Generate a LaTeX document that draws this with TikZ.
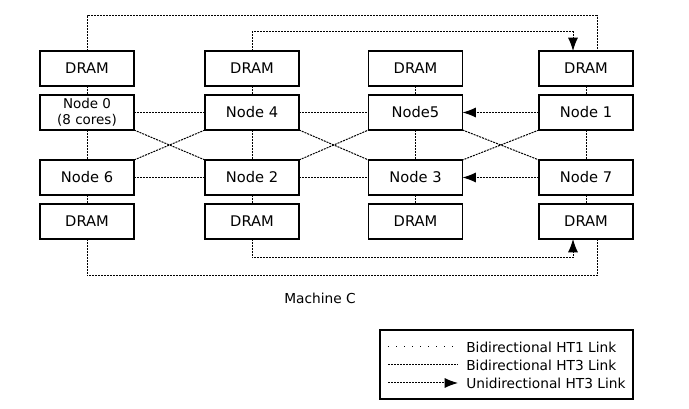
\documentclass[tikz,border=0pt]{standalone}
\usepackage{fontspec}
\setmainfont{DejaVu Sans}
\usepackage{tikz}
\usetikzlibrary{arrows.meta,positioning,calc}

\begin{document}
\begin{tikzpicture}[x=0.75pt, y=0.75pt,
  box/.style={draw, line width=0.95pt, minimum width=70.5pt, minimum height=26.25pt, inner sep=0pt, outer sep=0pt, font=\fontsize{11}{12}\selectfont},
  ht3/.style={line width=0.75pt, dash pattern=on 1.5pt off 0.75pt},
  ht1/.style={line width=0.75pt, dash pattern=on 0.6pt off 5.4pt},
  uni/.style={ht3, -{Latex[length=10pt, width=7.5pt]}},
  lab/.style={font=\fontsize{10.3}{12}\selectfont, inner sep=0pt},
  ]
  \useasboundingbox (0,0) rectangle (689,409);
  % top DRAMs
  \node[box] (dram0) at (87,340.5) {DRAM};
  \node[box] (dram4) at (252,340.5) {DRAM};
  \node[box] (dram5) at (415.5,340.5) {DRAM};
  \node[box] (dram1) at (586,340.5) {DRAM};
  % nodes
  \node[box, align=center, font=\fontsize{10.1}{12}\selectfont] (n0) at (87,296.5) {Node 0\\(8 cores)};
  \node[box] (n4) at (252,296.5) {Node 4};
  \node[box] (n5) at (415.5,296.5) {Node5};
  \node[box] (n1) at (586,296.5) {Node 1};
  \node[box] (n6) at (87,231.5) {Node 6};
  \node[box] (n2) at (252,231.5) {Node 2};
  \node[box] (n3) at (415.5,231.5) {Node 3};
  \node[box] (n7) at (586,231.5) {Node 7};
  % bottom DRAMs
  \node[box] (dram6) at (87,187.5) {DRAM};
  \node[box] (dram2) at (252,187.5) {DRAM};
  \node[box] (dram3) at (415.5,187.5) {DRAM};
  \node[box] (dram7) at (586,187.5) {DRAM};

  % memory links
  \foreach \d/\n in {dram0/n0, dram4/n4, dram5/n5, dram1/n1}
    \draw[ht3] (\d.south) -- (\n.north);
  \foreach \n/\d in {n6/dram6, n2/dram2, n3/dram3, n7/dram7}
    \draw[ht3] (\n.south) -- (\d.north);
  % vertical node links
  \foreach \a/\b in {n0/n6, n4/n2, n5/n3, n1/n7}
    \draw[ht3] (\a.south) -- (\b.north);
  % horizontal node links
  \foreach \a/\b in {n0/n4, n4/n5, n6/n2, n2/n3}
    \draw[ht3] (\a.east) -- (\b.west);
  \draw[uni] (n1.west) -- (n5.east);
  \draw[uni] (n7.west) -- (n3.east);
  % crossing links
  \draw[ht3] (n0.south east) -- (n2.north west);
  \draw[ht3] (n4.south west) -- (n6.north east);
  \draw[ht3] (n4.south east) -- (n3.north west);
  \draw[ht3] (n2.north east) -- (n5.south west);
  \draw[ht3] (n5.south east) -- (n7.north west);
  \draw[ht3] (n1.south west) -- (n3.north east);
  % long links round the outside
  \draw[ht3] (dram0.north) -- ++(0,35) -| ([shift={(11,0)}]dram1.north);
  \draw[uni] (dram4.north) -- ++(0,19) -| ([shift={(-13,0)}]dram1.north);
  \draw[uni] (dram2.south) -- ++(0,-19) -| ([shift={(-13,0)}]dram7.south);
  \draw[ht3] (dram6.south) -- ++(0,-37) -| ([shift={(11,0)}]dram7.south);

  \node[lab] (title) at (320,111) {Machine C};

  % legend
  \draw[line width=0.95pt] (380,10) rectangle (633,79);
  \coordinate (k1a) at (388,62); \coordinate (k1b) at (458,62);
  \coordinate (k2a) at (388,44); \coordinate (k2b) at (458,44);
  \coordinate (k3a) at (388,26); \coordinate (k3b) at (458,26);
  \draw[ht1] (k1a) -- (k1b);
  \draw[ht3] (k2a) -- (k2b);
  \draw[uni] (k3a) -- (k3b);
  \node[lab, anchor=west] (key1) at (466,62) {Bidirectional HT1 Link};
  \node[lab, anchor=west] (key2) at (466,44) {Bidirectional HT3 Link};
  \node[lab, anchor=west] (key3) at (466,26) {Unidirectional HT3 Link};
\end{tikzpicture}
\end{document}
